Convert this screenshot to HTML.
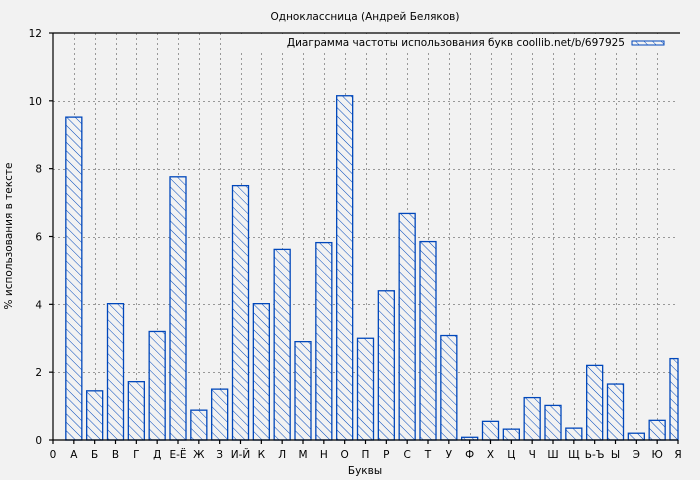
<!DOCTYPE html>
<html><head><meta charset="utf-8"><style>
body{margin:0;background:#f2f2f2}
svg{display:block;font-family:"DejaVu Sans","Liberation Sans",sans-serif}
</style></head><body>
<svg width="700" height="480" viewBox="0 0 700 480" xmlns="http://www.w3.org/2000/svg">
<defs>
<pattern id="h" patternUnits="userSpaceOnUse" width="6" height="6" patternTransform="rotate(-45)">
<rect width="6" height="6" fill="#f2f2f2"/>
<line x1="0" y1="0" x2="0" y2="6" stroke="#0047bb" stroke-width="1"/>
</pattern>
</defs>
<rect width="700" height="480" fill="#f2f2f2"/>
<text x="365" y="20" font-size="10.5" text-anchor="middle" fill="#000">Одноклассница (Андрей Беляков)</text>
<g id="grid" stroke="#999" stroke-dasharray="2,3" stroke-width="1"></g>
<g id="bars"></g>
<rect x="240" y="34" width="436" height="17" fill="#f2f2f2"/>
<text x="625" y="46" font-size="10.5" text-anchor="end" fill="#000">Диаграмма частоты использования букв coollib.net/b/697925</text>
<rect x="632" y="41" width="32" height="4" fill="url(#h)" stroke="#0047bb" stroke-width="1"/>
<g id="axes" stroke="#000" stroke-width="1.2" fill="none"></g>
<g id="lab" font-size="10.5" fill="#000"></g>
<text x="365" y="474" font-size="10.5" text-anchor="middle">Буквы</text>
<text transform="translate(12,236) rotate(-90)" font-size="10.5" text-anchor="middle">% использования в тексте</text>
</svg>
<script>
const ns="http://www.w3.org/2000/svg";
function el(p,t,a,txt){const e=document.createElementNS(ns,t);for(const k in a)e.setAttribute(k,a[k]);if(txt!==undefined)e.textContent=txt;p.appendChild(e);return e;}
const L=["0","А","Б","В","Г","Д","Е-Ё","Ж","З","И-Й","К","Л","М","Н","О","П","Р","С","Т","У","Ф","Х","Ц","Ч","Ш","Щ","Ь-Ъ","Ы","Э","Ю","Я"];
const V=[9.52,1.45,4.02,1.72,3.2,7.76,0.88,1.5,7.5,4.02,5.62,2.9,5.82,10.15,3.0,4.4,6.68,5.85,3.08,0.08,0.55,0.32,1.25,1.02,0.35,2.2,1.65,0.2,0.58,2.4];
const x0=53,x1=678,y0=440,yt=33,dx=(x1-x0)/30,sy=(y0-yt)/12;
const g=document.getElementById("grid"),b=document.getElementById("bars"),a=document.getElementById("axes"),lb=document.getElementById("lab");
for(let i=1;i<30;i++){const x=Math.round(x0+dx*i)+0.5;el(g,"line",{x1:x,x2:x,y1:yt,y2:y0});}
for(let v=2;v<=10;v+=2){const y=Math.round(y0-v*sy)+0.5;el(g,"line",{x1:x0,x2:x1,y1:y,y2:y});}
V.forEach((v,i)=>{const cx=x0+dx*(i+1);const y=y0-v*sy;let x=cx-8,w=16;if(x+w>x1)w=x1-x;el(b,"rect",{x:x,y:y,width:w,height:y0-y,fill:"url(#h)",stroke:"#0047bb","stroke-width":1.3});});
el(a,"path",{d:`M${x0} ${yt}H${x1+2}M${x0} ${yt}V${y0}H${x1}`});
for(let i=0;i<=30;i++){const x=x0+dx*i;el(a,"line",{x1:x,x2:x,y1:y0,y2:y0+4});el(lb,"text",{x:x,y:458,"text-anchor":"middle"},L[i]);}
for(let v=0;v<=12;v+=2){const y=y0-v*sy;el(a,"line",{x1:x0-4,x2:x0,y1:y,y2:y});el(lb,"text",{x:42,y:y+4,"text-anchor":"end"},v);}
</script>
</body></html>
